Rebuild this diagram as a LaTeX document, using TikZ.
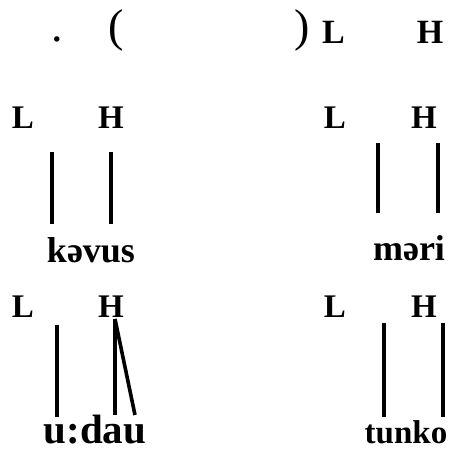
\documentclass[tikz,border=0pt]{standalone}
\usepackage{fontspec}
\setmainfont{Liberation Serif}
\begin{document}
\begin{tikzpicture}[x=1pt,y=-1pt,
  tone/.style={font=\fontsize{33}{33}\selectfont\bfseries, inner sep=0pt, anchor=base},
  toptone/.style={font=\fontsize{34}{34}\selectfont\bfseries, inner sep=0pt, anchor=base},
  word/.style={font=\fontsize{36}{36}\selectfont\bfseries, inner sep=0pt, anchor=base},
  punct/.style={font=\fontsize{46}{46}\selectfont, inner sep=0pt, anchor=base},
  assoc/.style={line width=3.6pt}]
\useasboundingbox (0,0) rectangle (449,453);
% top row
\node[punct] (dot) at (57,41) {.};
\node[punct] (lp) at (116,41) {(};
\node[punct] (rp) at (302,41) {)};
\node[toptone] (tL) at (333.5,43) {L};
\node[toptone] (tH) at (430,43) {H};
% row 2 left
\node[tone] (aL) at (23,128) {L};
\node[tone] (aH) at (111,128) {H};
\node[word] (aw) at (91,262) {kəvus};
\coordinate (a1t) at (52,152); \coordinate (a1b) at (52,224);
\coordinate (a2t) at (111,152); \coordinate (a2b) at (111,224);
\draw[assoc] (a1t) -- (a1b);
\draw[assoc] (a2t) -- (a2b);
% row 2 right
\node[tone] (bL) at (335,128) {L};
\node[tone] (bH) at (424,128) {H};
\node[word] (bw) at (409,260) {məri};
\coordinate (b1t) at (378,143); \coordinate (b1b) at (378,213);
\coordinate (b2t) at (438,143); \coordinate (b2b) at (438,213);
\draw[assoc] (b1t) -- (b1b);
\draw[assoc] (b2t) -- (b2b);
% row 3 left
\node[tone] (cL) at (23,317) {L};
\node[tone] (cH) at (111,317) {H};
\node[word,font=\fontsize{41}{41}\selectfont\bfseries] (cw) at (95,443) {u:dau};
\coordinate (c1t) at (57,325); \coordinate (c1b) at (57,417);
\coordinate (c2t) at (115,319); \coordinate (c2b) at (115,415);
\coordinate (c3b) at (135,415);
\draw[assoc] (c1t) -- (c1b);
\draw[assoc] (c2t) -- (c2b);
\draw[assoc] (c2t) -- (c3b);
% row 3 right
\node[tone] (dL) at (335,317) {L};
\node[tone] (dH) at (424,317) {H};
\node[word,font=\fontsize{33}{33}\selectfont\bfseries] (dw) at (406,443) {tunko};
\coordinate (d1t) at (384,323); \coordinate (d1b) at (384,417);
\coordinate (d2t) at (443,323); \coordinate (d2b) at (443,417);
\draw[assoc] (d1t) -- (d1b);
\draw[assoc] (d2t) -- (d2b);
\end{tikzpicture}
\end{document}
